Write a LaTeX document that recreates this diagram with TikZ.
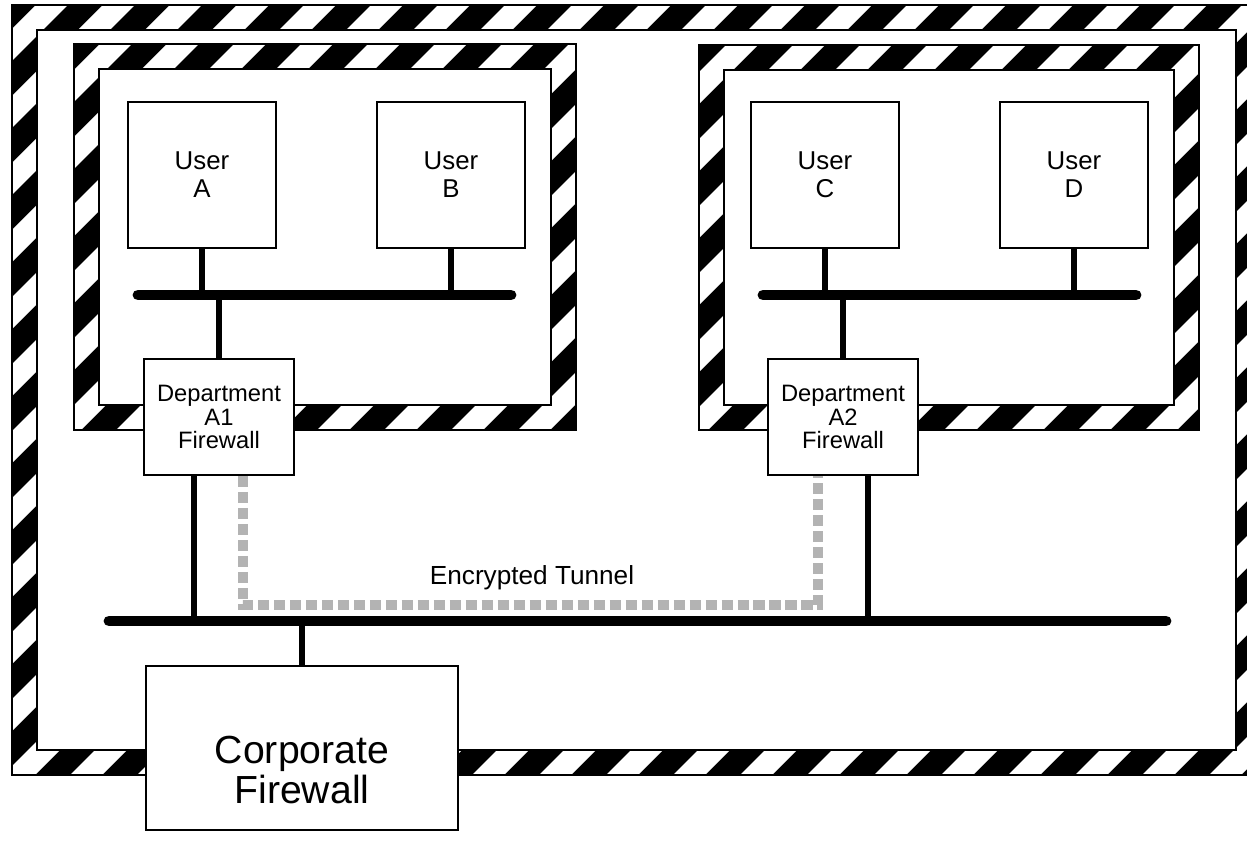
\documentclass[tikz,border=0pt]{standalone}
\usepackage{fontspec}
\setmainfont{Liberation Sans}

\definecolor{tunnelgray}{RGB}{179,179,179}

% striped security frame: outer x1 y1 x2 y2, stripe phase
\newcommand{\hatchframe}[5]{%
  \begin{scope}[even odd rule]
    \clip (#1,#2) rectangle (#3,#4) (#1+25,#2+25) rectangle (#3-25,#4-25);
    \fill[black] (#1,#2) rectangle (#3,#4);
    \foreach \hx in {0,67,...,2144}
      \fill[white] (#5+\hx,0) -- ++(32,0) -- ++(-900,900) -- ++(-32,0) -- cycle;
  \end{scope}
  \draw[line width=0.7pt] (#1,#2) rectangle (#3,#4) (#1+25,#2+25) rectangle (#3-25,#4-25);
}

\tikzset{
  userbox/.style={draw, line width=1.1pt, fill=white, inner sep=0pt,
    minimum width=2.96cm, minimum height=2.92cm, align=center,
    font=\fontsize{14.7}{16}\selectfont},
  fwbox/.style={draw, line width=1.1pt, fill=white, inner sep=0pt,
    minimum width=3cm, minimum height=2.32cm, align=center,
    font=\fontsize{13.5}{13.6}\selectfont},
  bus/.style={line width=6.2pt, line cap=round},
  stem/.style={line width=3pt},
  tunnel/.style={line width=6pt, tunnelgray, dash pattern=on 6.3pt off 2.8pt}
}

\begin{document}
\begin{tikzpicture}[x=0.02cm, y=-0.02cm]
  \useasboundingbox (0,0) rectangle (1247,858);
  \clip (0,0) rectangle (1247,858);

  % corporate network
  \hatchframe{12}{5}{1261}{775}{41}

  % department frames
  \hatchframe{74}{44}{576}{430}{10}
  \hatchframe{699}{45}{1199}{430}{34}

  % users
  \node[userbox] (userA) at (202,175) {User\\A};
  \node[userbox] (userB) at (451,175) {User\\B};
  \node[userbox] (userC) at (825,175) {User\\C};
  \node[userbox] (userD) at (1074,175) {User\\D};

  % department firewalls
  \node[fwbox] (fwA1) at (219,417) {Department\\A1\\Firewall};
  \node[fwbox] (fwA2) at (843,417) {Department\\A2\\Firewall};

  % corporate firewall
  \node[draw, line width=1.1pt, fill=white, minimum width=6.24cm, minimum height=3.28cm] (corpfw) at (302,748) {};
  \node[align=center, font=\fontsize{22.3}{22.5}\selectfont] (corplabel) at (302,770) {Corporate\\Firewall};

  % department buses
  \coordinate (busA-w) at (138,295);
  \coordinate (busA-e) at (511,295);
  \coordinate (busB-w) at (763,295);
  \coordinate (busB-e) at (1136,295);
  \draw[bus] (busA-w) -- (busA-e);
  \draw[bus] (busB-w) -- (busB-e);
  \draw[stem] (userA.south) -- (userA.south |- busA-w);
  \draw[stem] (userB.south) -- (userB.south |- busA-w);
  \draw[stem] (userC.south) -- (userC.south |- busB-w);
  \draw[stem] (userD.south) -- (userD.south |- busB-w);
  \draw[stem] (fwA1.north) -- (fwA1.north |- busA-w);
  \draw[stem] (fwA2.north) -- (fwA2.north |- busB-w);

  % corporate bus
  \coordinate (bus-w) at (109,621);
  \coordinate (bus-e) at (1166,621);
  \draw[bus] (bus-w) -- (bus-e);
  \coordinate (fwA1-out) at ([xshift=-0.5cm]fwA1.south);
  \coordinate (fwA2-out) at ([xshift=0.5cm]fwA2.south);
  \draw[stem] (fwA1-out) -- (fwA1-out |- bus-w);
  \draw[stem] (fwA2-out) -- (fwA2-out |- bus-w);
  \draw[stem] (corpfw.north) -- (corpfw.north |- bus-w);

  % tunnel
  \coordinate (tunA1) at ([xshift=0.48cm]fwA1.south);
  \coordinate (tunA2) at ([xshift=-0.5cm]fwA2.south);
  \draw[tunnel] (tunA1) -- (tunA1 |- 0,605) -- (tunA2 |- 0,605) -- (tunA2);
  \node[font=\fontsize{14.9}{16}\selectfont] (tunnellabel) at (532,578) {Encrypted Tunnel};
\end{tikzpicture}
\end{document}
